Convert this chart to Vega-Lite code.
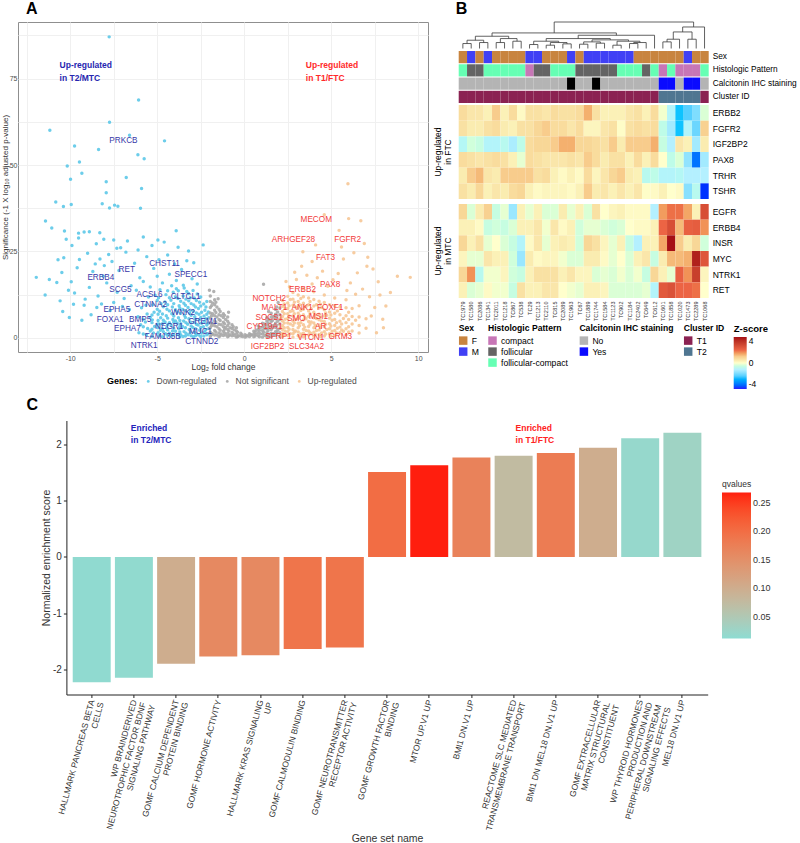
{
"$schema": "https://vega.github.io/schema/vega-lite/v6.json",
"padding": {"left": 0, "top": 0, "right": 0, "bottom": 0},
"bounds": "full",
"spacing": 6.5,
"config": {"font": "Liberation Sans", "view": {"stroke": null}, "axis": {"labelFont": "Liberation Sans", "titleFont": "Liberation Sans"}, "legend": {"labelFont": "Liberation Sans", "titleFont": "Liberation Sans"}, "title": {"font": "Liberation Sans"}},
"resolve": {"scale": {"color": "independent"}, "legend": {"color": "independent"}},
"datasets": {
"down": [
{"x":-7.76,"y":87.1},{"x":-6.07,"y":68.8},{"x":-7.74,"y":62.4},{"x":-11.17,"y":60.1},{"x":-4.58,"y":57.0},{"x":-6.59,"y":58.6},{"x":-9.75,"y":55.5},{"x":-8.37,"y":54.5},{"x":-6.11,"y":53.0},{"x":-5.75,"y":51.8},{"x":-9.47,"y":50.9},{"x":-10.17,"y":49.7},{"x":-9.33,"y":47.6},{"x":-6.78,"y":46.4},{"x":-9.98,"y":45.9},{"x":-7.93,"y":45.2},{"x":-5.9,"y":43.2},{"x":-7.93,"y":42.0},{"x":-10.83,"y":39.3},{"x":-9.94,"y":38.6},{"x":-8.16,"y":38.8},{"x":-10.39,"y":38.0},{"x":-7.74,"y":37.6},{"x":-7.45,"y":38.4},{"x":-7.26,"y":38.1},{"x":-5.96,"y":37.5},{"x":-11.42,"y":33.8},{"x":-11.06,"y":31.8},{"x":-10.33,"y":30.9},{"x":-9.52,"y":30.3},{"x":-9.2,"y":30.6},{"x":-8.9,"y":30.7},{"x":-8.3,"y":30.4},{"x":-3.91,"y":31.0},{"x":-10.23,"y":28.5},{"x":-9.52,"y":28.9},{"x":-8.07,"y":28.5},{"x":-7.5,"y":28.3},{"x":-6.71,"y":28.0},{"x":-5.8,"y":29.2},{"x":-4.96,"y":28.3},{"x":-2.36,"y":26.9},{"x":-7.32,"y":25.9},{"x":-10.37,"y":23.2},{"x":-9.47,"y":22.7},{"x":-8.29,"y":22.8},{"x":-7.79,"y":24.1},{"x":-8.56,"y":21.4},{"x":-8.04,"y":20.9},{"x":-11.95,"y":17.5},{"x":-10.77,"y":16.0},{"x":-11.44,"y":12.4},{"x":-10.58,"y":10.7},{"x":-9.94,"y":16.2},{"x":-10.48,"y":18.9},{"x":-9.75,"y":13.0},{"x":-9.14,"y":11.2},{"x":-9.81,"y":9.7},{"x":-10.43,"y":7.6},{"x":-10.05,"y":5.9},{"x":-9.33,"y":5.1},{"x":-8.47,"y":8.8},{"x":-7.5,"y":10.2},
{"x":-9.0,"y":24.5},{"x":-8.7,"y":19.2},{"x":-8.1,"y":17.8},{"x":-7.6,"y":22.1},{"x":-7.2,"y":19.5},{"x":-6.8,"y":24.8},{"x":-6.3,"y":21.6},{"x":-6.0,"y":17.4},{"x":-5.6,"y":23.5},{"x":-5.2,"y":20.1},{"x":-4.9,"y":22.6},{"x":-4.4,"y":24.0},{"x":-4.0,"y":21.4},{"x":-3.6,"y":19.8},{"x":-3.3,"y":22.3},{"x":-3.0,"y":17.1},{"x":-2.7,"y":15.6},{"x":-8.9,"y":14.6},{"x":-8.4,"y":12.1},{"x":-7.9,"y":15.9},{"x":-7.3,"y":13.2},{"x":-6.9,"y":11.4},{"x":-6.5,"y":15.1},{"x":-6.2,"y":13.8},{"x":-5.8,"y":16.3},{"x":-5.4,"y":14.7},{"x":-5.0,"y":17.8},{"x":-4.7,"y":15.9},{"x":-4.3,"y":18.4},{"x":-3.9,"y":16.6},{"x":-3.5,"y":15.2},{"x":-9.6,"y":20.3},{"x":-10.1,"y":13.8},{"x":-9.2,"y":9.4},{"x":-8.8,"y":6.7},{"x":-8.2,"y":9.8},{"x":-7.7,"y":7.9},{"x":-7.0,"y":9.1},{"x":-6.6,"y":8.2},{"x":-10.7,"y":22.6},{"x":-11.2,"y":16.9},{"x":-9.9,"y":26.7},{"x":-8.5,"y":27.2},{"x":-7.1,"y":26.1},{"x":-6.1,"y":25.4},{"x":-5.3,"y":26.7},{"x":-4.6,"y":27.7},{"x":-3.8,"y":26.2},{"x":-3.2,"y":25.1},{"x":-2.9,"y":21.7},
{"x":-6.05,"y":1.5},{"x":-5.95,"y":3.8},{"x":-6.1,"y":6.1},{"x":-5.9,"y":8.7},
{"x":-5.62,"y":0.9},{"x":-5.55,"y":2.7},{"x":-5.68,"y":4.6},{"x":-5.58,"y":6.9},{"x":-5.65,"y":9.4},{"x":-5.5,"y":11.8},
{"x":-5.22,"y":1.4},{"x":-5.15,"y":3.3},{"x":-5.28,"y":5.2},{"x":-5.18,"y":7.4},{"x":-5.25,"y":9.6},{"x":-5.12,"y":12.3},
{"x":-4.88,"y":0.6},{"x":-4.82,"y":2.2},{"x":-4.9,"y":4.0},{"x":-4.8,"y":5.8},{"x":-4.86,"y":7.7},{"x":-4.78,"y":9.9},{"x":-4.92,"y":11.6},{"x":-4.84,"y":13.9},
{"x":-4.52,"y":1.2},{"x":-4.46,"y":2.9},{"x":-4.55,"y":4.6},{"x":-4.48,"y":6.4},{"x":-4.44,"y":8.3},{"x":-4.56,"y":10.4},{"x":-4.5,"y":12.5},
{"x":-4.18,"y":0.5},{"x":-4.12,"y":2.0},{"x":-4.2,"y":3.6},{"x":-4.1,"y":5.3},{"x":-4.16,"y":7.0},{"x":-4.13,"y":8.9},{"x":-4.21,"y":10.9},{"x":-4.08,"y":13.2},{"x":-4.17,"y":15.1},
{"x":-3.82,"y":1.0},{"x":-3.76,"y":2.6},{"x":-3.85,"y":4.2},{"x":-3.78,"y":5.8},{"x":-3.84,"y":7.5},{"x":-3.74,"y":9.3},{"x":-3.81,"y":11.4},{"x":-3.79,"y":13.6},
{"x":-3.52,"y":0.4},{"x":-3.46,"y":1.8},{"x":-3.55,"y":3.3},{"x":-3.48,"y":4.9},{"x":-3.44,"y":6.5},{"x":-3.53,"y":8.2},{"x":-3.47,"y":10.0},{"x":-3.51,"y":12.1},{"x":-3.45,"y":14.4},
{"x":-3.22,"y":0.9},{"x":-3.16,"y":2.4},{"x":-3.25,"y":3.9},{"x":-3.18,"y":5.5},{"x":-3.14,"y":7.1},{"x":-3.23,"y":8.8},{"x":-3.19,"y":10.7},{"x":-3.2,"y":12.8},
{"x":-2.92,"y":0.3},{"x":-2.86,"y":1.6},{"x":-2.95,"y":3.0},{"x":-2.88,"y":4.5},{"x":-2.84,"y":6.1},{"x":-2.93,"y":7.7},{"x":-2.9,"y":9.5},{"x":-2.87,"y":11.5},{"x":-2.94,"y":13.7},
{"x":-2.62,"y":0.8},{"x":-2.56,"y":2.2},{"x":-2.65,"y":3.7},{"x":-2.58,"y":5.2},{"x":-2.6,"y":6.8},{"x":-2.63,"y":8.5},{"x":-2.57,"y":10.3},
{"x":-2.32,"y":0.5},{"x":-2.27,"y":1.8},{"x":-2.35,"y":3.2},{"x":-2.28,"y":4.7},{"x":-2.31,"y":6.3},{"x":-2.26,"y":8.0},{"x":-2.33,"y":9.8},
{"x":-2.07,"y":1.2},{"x":-2.03,"y":2.7},{"x":-2.08,"y":4.2},{"x":-2.04,"y":5.8},{"x":-2.06,"y":7.5},
{"x":-5.4,"y":2.0},{"x":-5.4,"y":5.9},{"x":-5.0,"y":3.9},{"x":-5.0,"y":8.3},{"x":-4.65,"y":1.8},{"x":-4.65,"y":5.1},{"x":-4.65,"y":9.0},{"x":-4.3,"y":1.3},{"x":-4.3,"y":4.4},{"x":-4.3,"y":7.8},{"x":-4.3,"y":11.6},{"x":-3.95,"y":1.9},{"x":-3.95,"y":4.9},{"x":-3.95,"y":8.1},{"x":-3.95,"y":11.9},{"x":-3.65,"y":0.9},{"x":-3.65,"y":4.1},{"x":-3.65,"y":7.1},{"x":-3.65,"y":10.6},{"x":-3.35,"y":1.3},{"x":-3.35,"y":4.4},{"x":-3.35,"y":7.8},{"x":-3.35,"y":11.2},{"x":-3.05,"y":0.6},{"x":-3.05,"y":3.4},{"x":-3.05,"y":6.5},{"x":-3.05,"y":9.9},{"x":-2.75,"y":1.1},{"x":-2.75,"y":3.9},{"x":-2.75,"y":7.2},{"x":-2.75,"y":10.8},{"x":-2.45,"y":1.4},{"x":-2.45,"y":4.2},{"x":-2.45,"y":7.4},{"x":-2.2,"y":2.4},{"x":-2.2,"y":5.5},{"x":-2.2,"y":8.9},
{"x":-5.8,"y":1.1},{"x":-5.8,"y":3.2},{"x":-5.8,"y":5.4},{"x":-5.3,"y":0.4},{"x":-5.3,"y":2.5},{"x":-5.3,"y":4.4},{"x":-5.3,"y":6.6},{"x":-4.95,"y":1.5},{"x":-4.95,"y":3.0},{"x":-4.95,"y":5.0},{"x":-4.95,"y":6.8},{"x":-4.7,"y":0.3},{"x":-4.7,"y":2.6},{"x":-4.7,"y":4.1},{"x":-4.7,"y":6.9},{"x":-4.4,"y":0.7},{"x":-4.4,"y":2.3},{"x":-4.4,"y":3.8},{"x":-4.4,"y":5.7},{"x":-4.4,"y":9.6},{"x":-4.05,"y":0.9},{"x":-4.05,"y":2.8},{"x":-4.05,"y":4.5},{"x":-4.05,"y":6.3},{"x":-4.05,"y":9.9},{"x":-3.7,"y":0.3},{"x":-3.7,"y":1.7},{"x":-3.7,"y":3.3},{"x":-3.7,"y":5.0},{"x":-3.7,"y":8.6},{"x":-3.38,"y":0.5},{"x":-3.38,"y":2.9},{"x":-3.38,"y":5.9},{"x":-3.38,"y":9.4},{"x":-3.1,"y":1.6},{"x":-3.1,"y":4.6},{"x":-3.1,"y":8.0},{"x":-3.1,"y":11.6},{"x":-2.8,"y":0.6},{"x":-2.8,"y":2.6},{"x":-2.8,"y":5.4},{"x":-2.8,"y":8.9},{"x":-2.5,"y":0.4},{"x":-2.5,"y":3.0},{"x":-2.5,"y":5.9},{"x":-2.5,"y":9.2},{"x":-2.5,"y":11.8},{"x":-2.15,"y":0.9},{"x":-2.15,"y":3.7},{"x":-2.15,"y":6.8},{"x":-2.15,"y":10.5},{"x":-3.3,"y":13.4},{"x":-3.9,"y":14.2},{"x":-4.4,"y":13.6},{"x":-2.7,"y":12.7},{"x":-5.0,"y":10.8}
],
"ns": [
{"x":-1.95,"y":0.4},{"x":-1.95,"y":1.6},{"x":-1.95,"y":2.9},{"x":-1.95,"y":4.3},{"x":-1.95,"y":5.7},{"x":-1.95,"y":7.2},{"x":-1.95,"y":8.8},{"x":-1.95,"y":10.5},{"x":-1.95,"y":12.1},
{"x":-1.7,"y":0.8},{"x":-1.7,"y":2.1},{"x":-1.7,"y":3.5},{"x":-1.7,"y":4.9},{"x":-1.7,"y":6.4},{"x":-1.7,"y":8.0},{"x":-1.7,"y":9.6},{"x":-1.7,"y":11.0},
{"x":-1.45,"y":0.3},{"x":-1.45,"y":1.4},{"x":-1.45,"y":2.6},{"x":-1.45,"y":3.9},{"x":-1.45,"y":5.3},{"x":-1.45,"y":6.7},{"x":-1.45,"y":8.3},
{"x":-1.2,"y":0.7},{"x":-1.2,"y":1.9},{"x":-1.2,"y":3.2},{"x":-1.2,"y":4.5},{"x":-1.2,"y":5.9},{"x":-1.2,"y":7.0},
{"x":-0.95,"y":0.3},{"x":-0.95,"y":1.3},{"x":-0.95,"y":2.4},{"x":-0.95,"y":3.6},{"x":-0.95,"y":4.8},{"x":-0.95,"y":6.0},
{"x":-0.7,"y":0.6},{"x":-0.7,"y":1.6},{"x":-0.7,"y":2.7},{"x":-0.7,"y":3.8},
{"x":-0.45,"y":0.2},{"x":-0.45,"y":1.1},{"x":-0.45,"y":2.0},{"x":-0.45,"y":2.9},
{"x":-0.2,"y":0.5},{"x":-0.2,"y":1.3},{"x":0.05,"y":0.2},{"x":0.05,"y":0.9},{"x":0.3,"y":0.4},{"x":0.3,"y":1.2},
{"x":0.55,"y":0.3},{"x":0.55,"y":1.1},{"x":0.55,"y":1.9},
{"x":0.8,"y":0.6},{"x":0.8,"y":1.5},{"x":0.8,"y":2.5},{"x":0.8,"y":3.4},
{"x":1.05,"y":0.2},{"x":1.05,"y":1.1},{"x":1.05,"y":2.1},{"x":1.05,"y":3.1},{"x":1.05,"y":4.2},
{"x":1.3,"y":0.5},{"x":1.3,"y":1.5},{"x":1.3,"y":2.6},{"x":1.3,"y":3.7},{"x":1.3,"y":4.9},{"x":1.3,"y":5.8},
{"x":1.55,"y":0.3},{"x":1.55,"y":1.3},{"x":1.55,"y":2.4},{"x":1.55,"y":3.5},{"x":1.55,"y":4.7},{"x":1.55,"y":6.0},{"x":1.55,"y":7.1},
{"x":1.8,"y":0.7},{"x":1.8,"y":1.8},{"x":1.8,"y":3.0},{"x":1.8,"y":4.2},{"x":1.8,"y":5.5},{"x":1.8,"y":6.8},{"x":1.8,"y":8.2},
{"x":2.05,"y":0.4},{"x":2.05,"y":1.5},{"x":2.05,"y":2.7},{"x":2.05,"y":4.0},{"x":2.05,"y":5.3},{"x":2.05,"y":6.7},{"x":2.05,"y":8.6},
{"x":-1.82,"y":1.2},{"x":-1.82,"y":4.1},{"x":-1.82,"y":7.0},{"x":-1.82,"y":10.1},{"x":-1.57,"y":0.8},{"x":-1.57,"y":3.2},{"x":-1.57,"y":6.0},{"x":-1.57,"y":8.9},{"x":-1.32,"y":1.1},{"x":-1.32,"y":3.8},{"x":-1.32,"y":6.4},{"x":-1.07,"y":0.8},{"x":-1.07,"y":3.0},{"x":-1.07,"y":5.3},{"x":-0.82,"y":0.9},{"x":-0.82,"y":2.9},{"x":-0.57,"y":0.7},{"x":-0.57,"y":2.3},{"x":-0.32,"y":0.6},{"x":-0.1,"y":0.4},{"x":0.18,"y":0.6},{"x":0.42,"y":0.8},{"x":0.68,"y":1.0},{"x":0.68,"y":2.2},{"x":0.92,"y":1.2},{"x":0.92,"y":2.9},{"x":1.18,"y":0.7},{"x":1.18,"y":2.6},{"x":1.18,"y":4.0},{"x":1.42,"y":1.0},{"x":1.42,"y":3.1},{"x":1.42,"y":5.3},{"x":1.68,"y":1.2},{"x":1.68,"y":3.6},{"x":1.68,"y":6.1},{"x":1.92,"y":2.2},{"x":1.92,"y":4.8},{"x":1.92,"y":7.5},
{"x":1.11,"y":15.5},{"x":-1.75,"y":13.4},{"x":-1.5,"y":11.3},{"x":-0.9,"y":7.4},{"x":1.4,"y":7.6},{"x":1.95,"y":10.2},{"x":-2.0,"y":13.8},
{"x":-1.88,"y":0.9},{"x":-1.88,"y":3.5},{"x":-1.88,"y":6.3},{"x":-1.88,"y":9.3},{"x":-1.63,"y":1.7},{"x":-1.63,"y":4.5},{"x":-1.63,"y":7.3},{"x":-1.63,"y":10.3},{"x":-1.38,"y":0.6},{"x":-1.38,"y":2.2},{"x":-1.38,"y":5.0},{"x":-1.38,"y":7.6},{"x":-1.13,"y":1.4},{"x":-1.13,"y":2.5},{"x":-1.13,"y":4.1},{"x":-1.13,"y":6.5},{"x":-0.88,"y":0.6},{"x":-0.88,"y":2.0},{"x":-0.88,"y":4.2},{"x":-0.63,"y":1.2},{"x":-0.63,"y":3.2},{"x":-0.38,"y":0.4},{"x":-0.38,"y":1.6},{"x":-0.13,"y":0.9},{"x":0.12,"y":0.5},{"x":0.37,"y":0.9},{"x":0.62,"y":0.5},{"x":0.62,"y":1.6},{"x":0.87,"y":0.3},{"x":0.87,"y":2.1},{"x":1.12,"y":1.6},{"x":1.12,"y":3.5},{"x":1.37,"y":0.3},{"x":1.37,"y":2.1},{"x":1.37,"y":4.3},{"x":1.62,"y":0.7},{"x":1.62,"y":2.9},{"x":1.62,"y":5.0},{"x":1.87,"y":1.3},{"x":1.87,"y":3.6},{"x":1.87,"y":6.2},{"x":1.87,"y":8.9}
],
"up": [
{"x":2.2,"y":0.3},{"x":2.2,"y":1.3},{"x":2.2,"y":2.4},{"x":2.2,"y":3.6},{"x":2.2,"y":4.9},{"x":2.2,"y":6.2},{"x":2.2,"y":7.6},{"x":2.2,"y":9.1},{"x":2.2,"y":10.8},
{"x":2.5,"y":0.7},{"x":2.5,"y":1.8},{"x":2.5,"y":3.0},{"x":2.5,"y":4.3},{"x":2.5,"y":5.6},{"x":2.5,"y":7.0},{"x":2.5,"y":8.5},{"x":2.5,"y":10.1},{"x":2.5,"y":12.0},
{"x":2.8,"y":0.2},{"x":2.8,"y":1.2},{"x":2.8,"y":2.4},{"x":2.8,"y":3.6},{"x":2.8,"y":4.9},{"x":2.8,"y":6.3},{"x":2.8,"y":7.8},{"x":2.8,"y":9.4},{"x":2.8,"y":11.2},{"x":2.8,"y":13.1},
{"x":3.1,"y":0.6},{"x":3.1,"y":1.7},{"x":3.1,"y":2.9},{"x":3.1,"y":4.2},{"x":3.1,"y":5.6},{"x":3.1,"y":7.1},{"x":3.1,"y":8.7},{"x":3.1,"y":10.5},{"x":3.1,"y":12.4},
{"x":3.4,"y":0.3},{"x":3.4,"y":1.3},{"x":3.4,"y":2.5},{"x":3.4,"y":3.8},{"x":3.4,"y":5.2},{"x":3.4,"y":6.7},{"x":3.4,"y":8.3},{"x":3.4,"y":10.0},{"x":3.4,"y":11.9},{"x":3.4,"y":14.2},
{"x":3.7,"y":0.8},{"x":3.7,"y":2.0},{"x":3.7,"y":3.3},{"x":3.7,"y":4.7},{"x":3.7,"y":6.2},{"x":3.7,"y":7.8},{"x":3.7,"y":9.6},{"x":3.7,"y":11.5},
{"x":4.0,"y":0.4},{"x":4.0,"y":1.6},{"x":4.0,"y":2.9},{"x":4.0,"y":4.3},{"x":4.0,"y":5.8},{"x":4.0,"y":7.4},{"x":4.0,"y":9.2},{"x":4.0,"y":11.1},{"x":4.0,"y":13.3},
{"x":4.3,"y":1.0},{"x":4.3,"y":2.3},{"x":4.3,"y":3.7},{"x":4.3,"y":5.2},{"x":4.3,"y":6.8},{"x":4.3,"y":8.6},{"x":4.3,"y":10.6},
{"x":4.6,"y":0.5},{"x":4.6,"y":1.8},{"x":4.6,"y":3.2},{"x":4.6,"y":4.7},{"x":4.6,"y":6.3},{"x":4.6,"y":8.1},{"x":4.6,"y":10.2},{"x":4.6,"y":12.4},
{"x":4.9,"y":1.2},{"x":4.9,"y":2.6},{"x":4.9,"y":4.1},{"x":4.9,"y":5.7},{"x":4.9,"y":7.5},{"x":4.9,"y":9.6},
{"x":5.2,"y":0.7},{"x":5.2,"y":2.1},{"x":5.2,"y":3.6},{"x":5.2,"y":5.3},{"x":5.2,"y":7.1},{"x":5.2,"y":9.2},{"x":5.2,"y":11.5},
{"x":5.5,"y":1.5},{"x":5.5,"y":3.1},{"x":5.5,"y":4.8},{"x":5.5,"y":6.7},{"x":5.5,"y":8.9},
{"x":5.85,"y":0.9},{"x":5.85,"y":2.6},{"x":5.85,"y":4.4},{"x":5.85,"y":6.4},{"x":5.85,"y":8.7},{"x":5.85,"y":11.0},
{"x":6.2,"y":2.0},{"x":6.2,"y":4.0},{"x":6.2,"y":6.2},{"x":6.2,"y":8.5},{"x":6.6,"y":1.4},{"x":6.6,"y":3.6},{"x":6.6,"y":6.0},{"x":6.6,"y":9.3},{"x":7.0,"y":2.8},{"x":7.0,"y":5.5},
{"x":2.35,"y":1.9},{"x":2.35,"y":5.4},{"x":2.35,"y":8.6},{"x":2.65,"y":1.2},{"x":2.65,"y":4.0},{"x":2.65,"y":7.6},{"x":2.65,"y":11.1},{"x":2.95,"y":2.0},{"x":2.95,"y":5.3},{"x":2.95,"y":8.9},{"x":3.25,"y":1.1},{"x":3.25,"y":4.4},{"x":3.25,"y":7.9},{"x":3.25,"y":11.4},{"x":3.55,"y":2.1},{"x":3.55,"y":5.5},{"x":3.55,"y":9.1},{"x":3.85,"y":1.2},{"x":3.85,"y":4.6},{"x":3.85,"y":8.4},{"x":4.15,"y":2.1},{"x":4.15,"y":5.6},{"x":4.15,"y":9.6},{"x":4.45,"y":1.4},{"x":4.45,"y":4.9},{"x":4.45,"y":8.8},{"x":4.75,"y":2.4},{"x":4.75,"y":6.5},{"x":5.05,"y":1.9},{"x":5.05,"y":5.1},{"x":5.35,"y":2.8},{"x":5.35,"y":7.8},{"x":5.7,"y":1.9},{"x":5.7,"y":5.6},{"x":6.0,"y":3.2},{"x":6.4,"y":5.1},
{"x":2.6,"y":14.8},{"x":3.0,"y":16.9},{"x":3.3,"y":20.7},{"x":3.6,"y":18.1},{"x":3.9,"y":15.6},{"x":4.2,"y":17.4},{"x":4.5,"y":19.3},{"x":4.8,"y":14.9},{"x":5.1,"y":16.8},{"x":5.4,"y":18.6},{"x":5.7,"y":22.8},{"x":5.9,"y":13.7},{"x":6.1,"y":15.9},{"x":6.4,"y":12.6},{"x":6.5,"y":18.8},{"x":6.8,"y":14.1},{"x":7.05,"y":20.7},{"x":7.1,"y":23.3},{"x":7.2,"y":11.9},{"x":7.4,"y":19.9},{"x":7.5,"y":8.8},{"x":7.7,"y":16.2},{"x":7.96,"y":5.4},{"x":8.14,"y":9.2},{"x":8.4,"y":13.1},{"x":8.8,"y":17.8},{"x":9.54,"y":17.5},{"x":3.37,"y":24.9},{"x":5.59,"y":26.3},{"x":5.45,"y":31.1},{"x":4.6,"y":35.6},{"x":6.0,"y":34.5},{"x":6.7,"y":33.9},{"x":5.96,"y":44.6},{"x":3.9,"y":22.1},{"x":2.9,"y":19.0},{"x":4.1,"y":26.9},{"x":6.3,"y":24.6},{"x":6.9,"y":27.3},{"x":2.4,"y":16.3},{"x":7.8,"y":12.4},{"x":8.0,"y":2.9},{"x":7.6,"y":1.5},{"x":7.3,"y":6.3},
{"x":2.1,"y":1.0},{"x":2.1,"y":3.1},{"x":2.1,"y":5.6},{"x":2.3,"y":0.8},{"x":2.3,"y":2.9},{"x":2.3,"y":4.3},{"x":2.3,"y":7.0},{"x":2.3,"y":9.8},{"x":2.58,"y":2.5},{"x":2.58,"y":6.3},{"x":2.58,"y":9.3},{"x":2.88,"y":1.7},{"x":2.88,"y":4.3},{"x":2.88,"y":7.0},{"x":2.88,"y":10.3},{"x":3.18,"y":0.3},{"x":3.18,"y":3.5},{"x":3.18,"y":6.4},{"x":3.18,"y":9.6},{"x":3.48,"y":0.8},{"x":3.48,"y":3.1},{"x":3.48,"y":6.0},{"x":3.48,"y":9.1},{"x":3.78,"y":1.5},{"x":3.78,"y":3.9},{"x":3.78,"y":7.0},{"x":3.78,"y":10.5},{"x":4.08,"y":1.0},{"x":4.08,"y":3.6},{"x":4.08,"y":6.6},{"x":4.38,"y":0.4},{"x":4.38,"y":3.0},{"x":4.38,"y":6.0},{"x":4.38,"y":9.7},{"x":4.68,"y":1.1},{"x":4.68,"y":3.9},{"x":4.68,"y":7.2},{"x":4.98,"y":0.5},{"x":4.98,"y":3.4},{"x":4.98,"y":6.6},{"x":5.3,"y":1.4},{"x":5.3,"y":4.4},{"x":5.6,"y":2.3},{"x":5.6,"y":4.0},{"x":6.0,"y":1.7},{"x":6.0,"y":5.3},{"x":6.0,"y":7.4}
],
"labB": [
{"l":"PRKCB","x":-6.94,"y":57.0},{"l":"RET","x":-6.75,"y":19.6},{"l":"ERBB4","x":-8.24,"y":17.3},{"l":"CHST11","x":-4.58,"y":21.3},{"l":"SPECC1","x":-3.07,"y":18.3},{"l":"SCG5","x":-7.11,"y":13.9},{"l":"ACSL6","x":-5.44,"y":12.4},{"l":"CLTCL1","x":-3.37,"y":11.7},{"l":"CTNNA2","x":-5.38,"y":9.5},{"l":"EPHA5","x":-7.32,"y":8.0},{"l":"WNK2","x":-3.51,"y":7.2},{"l":"FOXA1","x":-7.7,"y":5.3},{"l":"BMP5","x":-5.98,"y":5.3},{"l":"GREM1","x":-2.38,"y":4.5},{"l":"EPHA7","x":-6.71,"y":2.6},{"l":"NEGR1","x":-4.31,"y":3.0},{"l":"MUC1","x":-2.51,"y":1.7},{"l":"FAM135B","x":-4.68,"y":0.2},{"l":"CTNND2","x":-2.44,"y":-1.2},{"l":"NTRK1","x":-5.75,"y":-2.5}
],
"labR": [
{"l":"MECOM","x":4.14,"y":34.2},{"l":"ARHGEF28","x":2.83,"y":28.3},{"l":"FGFR2","x":5.94,"y":28.3},{"l":"FAT3","x":4.67,"y":23.0},{"l":"PAX8","x":4.94,"y":15.4},{"l":"ERBB2","x":3.35,"y":13.9},{"l":"NOTCH2","x":1.44,"y":11.2},{"l":"MALT1","x":1.74,"y":8.6},{"l":"ANK1","x":3.33,"y":8.6},{"l":"FOXF1","x":4.94,"y":8.6},{"l":"SOCS1","x":1.44,"y":5.7},{"l":"SMO","x":2.99,"y":5.4},{"l":"MSI1","x":4.27,"y":5.9},{"l":"CYP19A1","x":1.17,"y":3.0},{"l":"AR","x":4.4,"y":3.1},{"l":"SFRP1","x":1.97,"y":0.3},{"l":"VTCN1","x":3.83,"y":0.0},{"l":"GRM3","x":5.52,"y":0.3},{"l":"IGF2BP2","x":1.34,"y":-2.6},{"l":"SLC34A2","x":3.58,"y":-2.6}
],
"annA": [
{"x":-10.61,"y":78.9,"t":"Up-regulated\n in T2/MTC","c":"b"},
{"x":3.54,"y":78.9,"t":"Up-regulated\n in T1/FTC","c":"r"}
],
"dendro": [
{"xl":0.5,"xr":1.5,"hl":0,"hr":0,"h":15},{"xl":2.5,"xr":3.5,"hl":0,"hr":0,"h":18},{"xl":1.0,"xr":3.0,"hl":15,"hr":18,"h":25},
{"xl":4.5,"xr":5.5,"hl":0,"hr":0,"h":18},{"xl":6.5,"xr":7.5,"hl":0,"hr":0,"h":22},{"xl":5.0,"xr":7.0,"hl":18,"hr":22,"h":30},
{"xl":2.0,"xr":6.0,"hl":25,"hr":30,"h":37},
{"xl":8.5,"xr":9.5,"hl":0,"hr":0,"h":12},{"xl":10.5,"xr":11.5,"hl":0,"hr":0,"h":10},{"xl":12.5,"xr":13.5,"hl":0,"hr":0,"h":14},{"xl":11.0,"xr":13.0,"hl":10,"hr":14,"h":18},{"xl":9.0,"xr":12.0,"hl":12,"hr":18,"h":22},
{"xl":14.5,"xr":15.5,"hl":0,"hr":0,"h":13},{"xl":16.5,"xr":17.5,"hl":0,"hr":0,"h":16},{"xl":15.0,"xr":17.0,"hl":13,"hr":16,"h":20},
{"xl":18.5,"xr":19.5,"hl":0,"hr":0,"h":10},{"xl":20.5,"xr":21.5,"hl":0,"hr":0,"h":15},{"xl":21.0,"xr":22.5,"hl":15,"hr":0,"h":18},{"xl":19.0,"xr":21.75,"hl":10,"hr":18,"h":22},
{"xl":16.0,"xr":20.375,"hl":20,"hr":22,"h":26},{"xl":10.5,"xr":18.19,"hl":22,"hr":26,"h":30},{"xl":14.34,"xr":23.5,"hl":30,"hr":0,"h":40},{"xl":4.0,"xr":18.92,"hl":37,"hr":40,"h":47},
{"xl":24.5,"xr":25.5,"hl":0,"hr":0,"h":20},{"xl":25.0,"xr":26.5,"hl":20,"hr":0,"h":28},{"xl":27.5,"xr":28.5,"hl":0,"hr":0,"h":28},{"xl":25.75,"xr":28.0,"hl":28,"hr":28,"h":50},{"xl":26.875,"xr":29.5,"hl":50,"hr":0,"h":65},
{"xl":11.46,"xr":28.19,"hl":47,"hr":65,"h":80}
],
"samples": [
{"s":"TC1979","Sex":"F","Hist":"follicular-compact","Calc":"No","Cl":"T1","ERBB2":0.7,"FGFR2":0.6,"IGF2BP2":-0.8,"PAX8":0.7,"TRHR":0.4,"TSHR":0.6,"EGFR":0.8,"ERBB4":0.3,"INSR":0.8,"MYC":0.2,"NTRK1":0.8,"RET":0.3},
{"s":"TC1580","Sex":"M","Hist":"follicular","Calc":"No","Cl":"T1","ERBB2":0.5,"FGFR2":0.4,"IGF2BP2":-0.4,"PAX8":0.6,"TRHR":1.0,"TSHR":0.4,"EGFR":-0.3,"ERBB4":0.3,"INSR":0.3,"MYC":-0.2,"NTRK1":1.6,"RET":-0.3},
{"s":"TC2086","Sex":"F","Hist":"follicular","Calc":"No","Cl":"T1","ERBB2":0.5,"FGFR2":0.4,"IGF2BP2":-0.5,"PAX8":0.5,"TRHR":1.2,"TSHR":0.8,"EGFR":0.4,"ERBB4":0.1,"INSR":0.6,"MYC":-0.2,"NTRK1":-0.7,"RET":-0.2},
{"s":"TC1341","Sex":"M","Hist":"follicular-compact","Calc":"No","Cl":"T1","ERBB2":0.3,"FGFR2":0.6,"IGF2BP2":-0.9,"PAX8":0.6,"TRHR":0.5,"TSHR":0.3,"EGFR":0.9,"ERBB4":-0.5,"INSR":-0.2,"MYC":0.5,"NTRK1":-0.1,"RET":0.1},
{"s":"TC2011","Sex":"F","Hist":"follicular-compact","Calc":"No","Cl":"T1","ERBB2":1.0,"FGFR2":0.7,"IGF2BP2":-0.9,"PAX8":0.7,"TRHR":0.4,"TSHR":0.5,"EGFR":-0.5,"ERBB4":-0.4,"INSR":0.0,"MYC":0.3,"NTRK1":-0.1,"RET":-0.1},
{"s":"TC1218","Sex":"F","Hist":"follicular-compact","Calc":"No","Cl":"T1","ERBB2":0.3,"FGFR2":0.4,"IGF2BP2":-0.7,"PAX8":0.6,"TRHR":1.0,"TSHR":0.4,"EGFR":-0.2,"ERBB4":-0.5,"INSR":-0.3,"MYC":0.3,"NTRK1":0.2,"RET":-0.1},
{"s":"TC867","Sex":"F","Hist":"follicular-compact","Calc":"No","Cl":"T1","ERBB2":0.7,"FGFR2":0.3,"IGF2BP2":-1.1,"PAX8":0.3,"TRHR":1.0,"TSHR":0.7,"EGFR":-1.3,"ERBB4":-0.3,"INSR":-0.5,"MYC":-0.4,"NTRK1":-0.4,"RET":-0.5},
{"s":"TC538","Sex":"F","Hist":"follicular-compact","Calc":"No","Cl":"T1","ERBB2":0.1,"FGFR2":0.6,"IGF2BP2":-0.6,"PAX8":-0.2,"TRHR":1.0,"TSHR":0.8,"EGFR":0.3,"ERBB4":0.3,"INSR":-0.9,"MYC":-1.3,"NTRK1":-0.5,"RET":0.6},
{"s":"TC29","Sex":"M","Hist":"compact","Calc":"No","Cl":"T1","ERBB2":0.6,"FGFR2":0.6,"IGF2BP2":0.7,"PAX8":0.7,"TRHR":1.0,"TSHR":0.3,"EGFR":-0.2,"ERBB4":0.3,"INSR":0.1,"MYC":0.4,"NTRK1":0.3,"RET":0.3},
{"s":"TC1213","Sex":"M","Hist":"follicular","Calc":"No","Cl":"T1","ERBB2":0.6,"FGFR2":0.8,"IGF2BP2":0.8,"PAX8":0.6,"TRHR":0.6,"TSHR":0.1,"EGFR":0.3,"ERBB4":0.5,"INSR":0.5,"MYC":0.1,"NTRK1":0.6,"RET":0.3},
{"s":"TC2110","Sex":"F","Hist":"follicular","Calc":"No","Cl":"T1","ERBB2":0.5,"FGFR2":1.0,"IGF2BP2":0.8,"PAX8":0.5,"TRHR":0.7,"TSHR":0.2,"EGFR":-0.3,"ERBB4":-0.1,"INSR":-0.2,"MYC":0.2,"NTRK1":0.6,"RET":0.5},
{"s":"TC815","Sex":"F","Hist":"follicular-compact","Calc":"No","Cl":"T1","ERBB2":0.7,"FGFR2":0.7,"IGF2BP2":1.0,"PAX8":0.5,"TRHR":0.3,"TSHR":0.2,"EGFR":-0.3,"ERBB4":0.5,"INSR":0.3,"MYC":0.2,"NTRK1":0.6,"RET":0.5},
{"s":"TC2089","Sex":"F","Hist":"follicular-compact","Calc":"No","Cl":"T1","ERBB2":0.6,"FGFR2":0.7,"IGF2BP2":1.3,"PAX8":0.5,"TRHR":0.1,"TSHR":0.2,"EGFR":0.4,"ERBB4":0.1,"INSR":0.4,"MYC":-0.1,"NTRK1":0.3,"RET":0.0},
{"s":"TC1963","Sex":"M","Hist":"follicular-compact","Calc":"NA","Cl":"T1","ERBB2":0.6,"FGFR2":0.5,"IGF2BP2":1.3,"PAX8":0.6,"TRHR":0.3,"TSHR":0.1,"EGFR":-0.2,"ERBB4":0.3,"INSR":0.3,"MYC":-0.3,"NTRK1":0.5,"RET":-0.1},
{"s":"TC67","Sex":"F","Hist":"follicular","Calc":"No","Cl":"T1","ERBB2":0.7,"FGFR2":0.7,"IGF2BP2":0.8,"PAX8":0.5,"TRHR":0.1,"TSHR":0.3,"EGFR":0.3,"ERBB4":-0.4,"INSR":-0.4,"MYC":-0.3,"NTRK1":0.2,"RET":-0.2},
{"s":"TC1889","Sex":"M","Hist":"follicular","Calc":"No","Cl":"T1","ERBB2":1.3,"FGFR2":0.2,"IGF2BP2":0.8,"PAX8":1.0,"TRHR":0.7,"TSHR":1.0,"EGFR":-0.3,"ERBB4":-0.2,"INSR":0.8,"MYC":0.4,"NTRK1":0.2,"RET":0.3},
{"s":"TC1744","Sex":"M","Hist":"follicular","Calc":"NA","Cl":"T1","ERBB2":0.6,"FGFR2":0.2,"IGF2BP2":0.7,"PAX8":0.7,"TRHR":0.2,"TSHR":0.4,"EGFR":0.6,"ERBB4":-0.2,"INSR":0.6,"MYC":0.4,"NTRK1":-0.3,"RET":0.3},
{"s":"TC1584","Sex":"M","Hist":"follicular","Calc":"No","Cl":"T1","ERBB2":0.3,"FGFR2":0.5,"IGF2BP2":0.6,"PAX8":0.4,"TRHR":0.5,"TSHR":0.5,"EGFR":0.0,"ERBB4":-0.3,"INSR":0.2,"MYC":0.1,"NTRK1":-0.2,"RET":0.2},
{"s":"TC1123","Sex":"M","Hist":"follicular","Calc":"No","Cl":"T1","ERBB2":0.3,"FGFR2":0.6,"IGF2BP2":1.0,"PAX8":0.6,"TRHR":0.8,"TSHR":0.3,"EGFR":0.2,"ERBB4":-0.4,"INSR":-0.2,"MYC":-0.2,"NTRK1":-0.3,"RET":-0.3},
{"s":"TC902","Sex":"M","Hist":"follicular-compact","Calc":"No","Cl":"T1","ERBB2":0.3,"FGFR2":0.05,"IGF2BP2":0.4,"PAX8":0.6,"TRHR":1.0,"TSHR":0.5,"EGFR":0.3,"ERBB4":-0.3,"INSR":0.3,"MYC":0.0,"NTRK1":-0.1,"RET":-0.3},
{"s":"TC1184","Sex":"M","Hist":"follicular-compact","Calc":"No","Cl":"T1","ERBB2":0.5,"FGFR2":0.6,"IGF2BP2":1.0,"PAX8":0.3,"TRHR":0.4,"TSHR":0.3,"EGFR":0.1,"ERBB4":0.0,"INSR":-0.5,"MYC":-0.3,"NTRK1":-0.3,"RET":-0.3},
{"s":"TC2402","Sex":"F","Hist":"follicular-compact","Calc":"No","Cl":"T1","ERBB2":0.6,"FGFR2":0.7,"IGF2BP2":1.0,"PAX8":0.7,"TRHR":0.3,"TSHR":0.5,"EGFR":0.1,"ERBB4":0.1,"INSR":-1.0,"MYC":0.3,"NTRK1":-0.1,"RET":-0.3},
{"s":"TC649","Sex":"F","Hist":"follicular","Calc":"No","Cl":"T1","ERBB2":0.3,"FGFR2":0.6,"IGF2BP2":1.0,"PAX8":0.3,"TRHR":-0.7,"TSHR":0.05,"EGFR":0.1,"ERBB4":0.1,"INSR":0.3,"MYC":0.5,"NTRK1":-0.5,"RET":-0.2},
{"s":"TC612","Sex":"F","Hist":"follicular-compact","Calc":"No","Cl":"T1","ERBB2":0.7,"FGFR2":0.7,"IGF2BP2":1.3,"PAX8":0.7,"TRHR":-0.6,"TSHR":0.1,"EGFR":-1.0,"ERBB4":0.3,"INSR":0.3,"MYC":-0.5,"NTRK1":0.8,"RET":-0.9},
{"s":"TC1601","Sex":"F","Hist":"compact","Calc":"Yes","Cl":"T2","ERBB2":-0.1,"FGFR2":-0.6,"IGF2BP2":-0.5,"PAX8":0.0,"TRHR":-0.9,"TSHR":0.3,"EGFR":1.5,"ERBB4":2.0,"INSR":1.4,"MYC":0.4,"NTRK1":0.3,"RET":2.3},
{"s":"TC1858","Sex":"F","Hist":"follicular-compact","Calc":"Yes","Cl":"T2","ERBB2":-0.9,"FGFR2":-1.2,"IGF2BP2":-1.0,"PAX8":-0.6,"TRHR":-0.9,"TSHR":0.0,"EGFR":1.9,"ERBB4":2.6,"INSR":4.0,"MYC":1.2,"NTRK1":-0.2,"RET":2.5},
{"s":"TC1020","Sex":"F","Hist":"compact","Calc":"No","Cl":"T2","ERBB2":-2.2,"FGFR2":-2.2,"IGF2BP2":0.5,"PAX8":-0.3,"TRHR":-0.8,"TSHR":0.1,"EGFR":1.9,"ERBB4":1.2,"INSR":1.0,"MYC":1.2,"NTRK1":2.1,"RET":2.0},
{"s":"TC1473","Sex":"M","Hist":"compact","Calc":"Yes","Cl":"T2","ERBB2":-2.0,"FGFR2":-0.9,"IGF2BP2":0.3,"PAX8":-1.4,"TRHR":-1.0,"TSHR":-1.5,"EGFR":1.4,"ERBB4":2.1,"INSR":0.4,"MYC":1.3,"NTRK1":1.6,"RET":2.0},
{"s":"TC2289","Sex":"F","Hist":"compact","Calc":"Yes","Cl":"T2","ERBB2":-1.6,"FGFR2":-1.8,"IGF2BP2":-1.2,"PAX8":-3.3,"TRHR":-1.0,"TSHR":-0.7,"EGFR":0.3,"ERBB4":2.2,"INSR":0.8,"MYC":3.7,"NTRK1":3.0,"RET":1.9},
{"s":"TC1068","Sex":"F","Hist":"follicular-compact","Calc":"No","Cl":"T1","ERBB2":-0.3,"FGFR2":0.9,"IGF2BP2":0.4,"PAX8":-1.2,"TRHR":-1.0,"TSHR":-3.9,"EGFR":2.6,"ERBB4":1.6,"INSR":-0.4,"MYC":2.4,"NTRK1":0.2,"RET":0.0}
],
"gsea": [
{"set":"HALLMARK PANCREAS BETA\nCELLS","nes":-2.23,"q":0.015},
{"set":"WP BRAINDERIVED\nNEUROTROPHIC FACTOR BDNF\nSIGNALING PATHWAY","nes":-2.15,"q":0.016},
{"set":"GOMF CALCIUM DEPENDENT\nPROTEIN BINDING","nes":-1.9,"q":0.1},
{"set":"GOMF HORMONE ACTIVITY","nes":-1.77,"q":0.16},
{"set":"HALLMARK KRAS SIGNALING\nUP","nes":-1.75,"q":0.16},
{"set":"GOMF CALMODULIN BINDING","nes":-1.64,"q":0.19},
{"set":"GOMF NEUROTRANSMITTER\nRECEPTOR ACTIVITY","nes":-1.61,"q":0.19},
{"set":"GOMF GROWTH FACTOR\nBINDING","nes":1.51,"q":0.2},
{"set":"MTOR UP.V1 UP","nes":1.63,"q":0.268},
{"set":"BMI1 DN.V1 UP","nes":1.77,"q":0.17},
{"set":"REACTOME SLC MEDIATED\nTRANSMEMBRANE TRANSPORT","nes":1.8,"q":0.075},
{"set":"BMI1 DN MEL18 DN.V1 UP","nes":1.85,"q":0.18},
{"set":"GOMF EXTRACELLULAR\nMATRIX STRUCTURAL\nCONSTITUENT","nes":1.94,"q":0.1},
{"set":"WP THYROID HORMONES\nPRODUCTION AND\nPERIPHERAL DOWNSTREAM\nSIGNALING EFFECTS","nes":2.11,"q":0.02},
{"set":"MEL18 DN.V1 UP","nes":2.21,"q":0.03}
],
"annCb": [{"set":"WP BRAINDERIVED\nNEUROTROPHIC FACTOR BDNF\nSIGNALING PATHWAY","t":"Enriched\n in T2/MTC"}],
"annCr": [{"set":"REACTOME SLC MEDIATED\nTRANSMEMBRANE TRANSPORT","t":"Enriched\n in T1/FTC"}]
},
"vconcat": [
{
"hconcat": [
{
"width": 410, "height": 330,
"view": {"stroke": "#8f8f8f", "strokeWidth": 1},
"title": {"text": "A", "anchor": "start", "frame": "group", "fontSize": 16, "fontWeight": "bold", "offset": 5, "dx": 8, "color": "black"},
"encoding": {
"x": {"field": "x", "type": "quantitative", "scale": {"domain": [-13.0, 10.56], "nice": false, "zero": false},
"axis": {"values": [-12.5, -10, -7.5, -5, -2.5, 0, 2.5, 5, 7.5, 10], "labelExpr": "datum.value % 5 == 0 ? toString(datum.value) : ''", "title": "Log₂ fold change", "grid": true, "gridColor": "#f0f0f0", "ticks": false, "domain": false, "labelFontSize": 7, "labelColor": "#4d4d4d", "titleFontSize": 8.5, "titleFontWeight": "normal", "titleColor": "#333", "titlePadding": 1, "labelPadding": 2}},
"y": {"field": "y", "type": "quantitative", "scale": {"domain": [-4.1, 91.4], "nice": false, "zero": false},
"axis": {"values": [0, 12.5, 25, 37.5, 50, 62.5, 75, 87.5], "labelExpr": "datum.value % 25 == 0 ? toString(datum.value) : ''", "title": "Significance (-1 X log₁₀ adjusted p-value)", "grid": true, "gridColor": "#f0f0f0", "ticks": false, "tickSize": 0, "domain": false, "labelFontSize": 7, "labelColor": "#4d4d4d", "titleFontSize": 8, "titleFontWeight": "normal", "titleColor": "#333", "titlePadding": 0, "labelPadding": 1}}
},
"layer": [
{"data": {"name": "down"}, "mark": {"type": "circle", "size": 12, "opacity": 0.9},
"encoding": {"color": {"datum": "Down-regulated", "type": "nominal",
"scale": {"domain": ["Down-regulated", "Not significant", "Up-regulated"], "range": ["#5cc8e8", "#a8a8a8", "#f6c696"]},
"legend": {"title": "Genes:", "orient": "none", "legendX": 89, "legendY": 355, "direction": "horizontal", "titleOrient": "left", "titleFontSize": 9, "titleFontWeight": "bold", "titleColor": "black", "labelFontSize": 8.5, "labelColor": "#4d4d4d", "symbolSize": 8, "symbolType": "circle", "columnPadding": 6, "labelOffset": 4, "titlePadding": 6}}}},
{"data": {"name": "ns"}, "mark": {"type": "circle", "size": 12, "opacity": 0.9}, "encoding": {"color": {"datum": "Not significant", "type": "nominal"}}},
{"data": {"name": "up"}, "mark": {"type": "circle", "size": 12, "opacity": 0.9}, "encoding": {"color": {"datum": "Up-regulated", "type": "nominal"}}},
{"data": {"name": "labB"}, "mark": {"type": "text", "fontSize": 8.2, "color": "#3737a8"}, "encoding": {"text": {"field": "l"}}},
{"data": {"name": "labR"}, "mark": {"type": "text", "fontSize": 8.2, "color": "#f23a3a"}, "encoding": {"text": {"field": "l"}}},
{"data": {"name": "annA"}, "transform": [{"filter": "datum.c == 'b'"}], "mark": {"type": "text", "fontSize": 8.5, "fontWeight": "bold", "color": "#2626b0", "align": "left", "baseline": "middle", "lineBreak": "\n", "lineHeight": 12.7}, "encoding": {"text": {"field": "t"}}},
{"data": {"name": "annA"}, "transform": [{"filter": "datum.c == 'r'"}], "mark": {"type": "text", "fontSize": 8.5, "fontWeight": "bold", "color": "#ff2a2a", "align": "left", "baseline": "middle", "lineBreak": "\n", "lineHeight": 12.7}, "encoding": {"text": {"field": "t"}}}
]
},
{
"vconcat": [
{
"width": 250, "height": 26.5,
"title": {"text": "B", "anchor": "start", "frame": "group", "fontSize": 16, "fontWeight": "bold", "offset": 5, "dx": -3, "color": "black"},
"data": {"name": "dendro"},
"layer": [
{"mark": {"type": "rule", "color": "#3a3a3a", "strokeWidth": 0.8}, "encoding": {"x": {"field": "xl", "type": "quantitative", "scale": {"domain": [0, 30], "nice": false, "zero": false}, "axis": null}, "x2": {"field": "xr"}, "y": {"field": "h", "type": "quantitative", "scale": {"domain": [0, 80], "nice": false}, "axis": null}}},
{"mark": {"type": "rule", "color": "#3a3a3a", "strokeWidth": 0.8}, "encoding": {"x": {"field": "xl", "type": "quantitative"}, "y": {"field": "hl", "type": "quantitative"}, "y2": {"field": "h"}}},
{"mark": {"type": "rule", "color": "#3a3a3a", "strokeWidth": 0.8}, "encoding": {"x": {"field": "xr", "type": "quantitative"}, "y": {"field": "hr", "type": "quantitative"}, "y2": {"field": "h"}}}
]
},
{
"width": 250, "height": 52,
"data": {"name": "samples"},
"encoding": {"x": {"field": "s", "type": "nominal", "sort": null, "axis": null, "scale": {"paddingInner": 0, "paddingOuter": 0}}},
"layer": [
{"mark": "rect", "encoding": {
"y": {"datum": "Sex", "type": "nominal", "scale": {"domain": ["Sex", "Histologic Pattern", "Calcitonin IHC staining", "Cluster ID"], "paddingInner": 0.08, "paddingOuter": 0}, "axis": {"orient": "right", "title": null, "ticks": false, "domain": false, "labelFontSize": 8.3, "labelPadding": 3.5, "labelColor": "black", "labelLimit": 200}},
"color": {"field": "Sex", "type": "nominal", "scale": {"domain": ["F", "M"], "range": ["#c8843f", "#4040f5"]},
"legend": {"title": "Sex", "orient": "none", "legendX": 0, "legendY": 272.5, "symbolType": "square", "symbolSize": 72, "symbolStrokeWidth": 0, "titleFontSize": 8.6, "titleFontWeight": "bold", "titleColor": "black", "labelFontSize": 8.6, "labelColor": "black", "rowPadding": 1, "titlePadding": 4, "labelOffset": 4}}}},
{"mark": "rect", "encoding": {
"y": {"datum": "Histologic Pattern", "type": "nominal"},
"color": {"field": "Hist", "type": "nominal", "scale": {"domain": ["compact", "follicular", "follicular-compact"], "range": ["#c776b6", "#646464", "#66ffb4"]},
"legend": {"title": "Histologic Pattern", "orient": "none", "legendX": 29.3, "legendY": 272.5, "symbolType": "square", "symbolSize": 72, "symbolStrokeWidth": 0, "titleFontSize": 8.6, "titleFontWeight": "bold", "titleColor": "black", "labelFontSize": 8.6, "labelColor": "black", "rowPadding": 1, "titlePadding": 4, "labelOffset": 4}}}},
{"mark": "rect", "encoding": {
"y": {"datum": "Calcitonin IHC staining", "type": "nominal"},
"color": {"field": "Calc", "type": "nominal", "scale": {"domain": ["No", "Yes", "NA"], "range": ["#b4b4b4", "#0a0aff", "#000000"]},
"legend": {"title": "Calcitonin IHC staining", "values": ["No", "Yes"], "orient": "none", "legendX": 120.7, "legendY": 272.5, "symbolType": "square", "symbolSize": 72, "symbolStrokeWidth": 0, "titleFontSize": 8.6, "titleFontWeight": "bold", "titleColor": "black", "labelFontSize": 8.6, "labelColor": "black", "rowPadding": 1, "titlePadding": 4, "labelOffset": 4}}}},
{"mark": "rect", "encoding": {
"y": {"datum": "Cluster ID", "type": "nominal"},
"color": {"field": "Cl", "type": "nominal", "scale": {"domain": ["T1", "T2"], "range": ["#8b2252", "#4f7691"]},
"legend": {"title": "Cluster ID", "orient": "none", "legendX": 225, "legendY": 272.5, "symbolType": "square", "symbolSize": 72, "symbolStrokeWidth": 0, "titleFontSize": 8.6, "titleFontWeight": "bold", "titleColor": "black", "labelFontSize": 8.6, "labelColor": "black", "rowPadding": 1, "titlePadding": 4, "labelOffset": 4}}}}
],
"resolve": {"scale": {"color": "independent"}, "legend": {"color": "independent"}}
},
{
"vconcat": [
{
"width": 250, "height": 94,
"data": {"name": "samples"},
"transform": [{"fold": ["ERBB2", "FGFR2", "IGF2BP2", "PAX8", "TRHR", "TSHR"], "as": ["gene", "z"]}],
"title": {"text": ["Up-regulated", "in FTC"], "orient": "left", "anchor": "middle", "fontSize": 8.5, "fontWeight": "normal", "offset": 6, "lineHeight": 10, "color": "black"},
"mark": "rect",
"encoding": {
"x": {"field": "s", "type": "nominal", "sort": null, "axis": null, "scale": {"paddingInner": 0, "paddingOuter": 0}},
"y": {"field": "gene", "type": "nominal", "sort": ["ERBB2", "FGFR2", "IGF2BP2", "PAX8", "TRHR", "TSHR"], "scale": {"paddingInner": 0, "paddingOuter": 0}, "axis": {"orient": "right", "title": null, "ticks": false, "domain": false, "labelFontSize": 8.5, "labelPadding": 3.5, "labelColor": "black"}},
"color": {"field": "z", "type": "quantitative", "scale": {"domain": [-4, -2, -1, 0, 1, 2, 4], "range": ["#2b1bff", "#55cfff", "#b4f0ff", "#ffffcc", "#f8cc8c", "#ec6444", "#a50f15"]}, "legend": null}
}
},
{
"width": 250, "height": 94,
"data": {"name": "samples"},
"transform": [{"fold": ["EGFR", "ERBB4", "INSR", "MYC", "NTRK1", "RET"], "as": ["gene", "z"]}],
"title": {"text": ["Up-regulated", "in MTC"], "orient": "left", "anchor": "middle", "fontSize": 8.5, "fontWeight": "normal", "offset": 6, "lineHeight": 10, "color": "black"},
"mark": "rect",
"encoding": {
"x": {"field": "s", "type": "nominal", "sort": null, "scale": {"paddingInner": 0, "paddingOuter": 0}, "axis": {"orient": "bottom", "title": null, "labelAngle": -90, "labelFontSize": 5.5, "labelColor": "#333", "ticks": false, "domain": false, "labelPadding": 3, "labelOverlap": false}},
"y": {"field": "gene", "type": "nominal", "sort": ["EGFR", "ERBB4", "INSR", "MYC", "NTRK1", "RET"], "scale": {"paddingInner": 0, "paddingOuter": 0}, "axis": {"orient": "right", "title": null, "ticks": false, "domain": false, "labelFontSize": 8.5, "labelPadding": 3.5, "labelColor": "black"}},
"color": {"field": "z", "type": "quantitative", "scale": {"domain": [-4, -2, -1, 0, 1, 2, 4], "range": ["#2b1bff", "#55cfff", "#b4f0ff", "#ffffcc", "#f8cc8c", "#ec6444", "#a50f15"]},
"legend": {"title": "Z-score", "orient": "none", "legendX": 275, "legendY": 119.5, "values": [-4, -2, 0, 2, 4], "gradientLength": 52, "gradientThickness": 13, "titleFontSize": 9.5, "titleFontWeight": "bold", "titleColor": "black", "labelFontSize": 8.5, "labelColor": "black", "titlePadding": 4, "labelExpr": "toString(datum.value)"}}
}
}
],
"spacing": 5, "bounds": "flush",
"resolve": {"scale": {"color": "independent"}, "legend": {"color": "independent"}}
}
],
"spacing": 2, "bounds": "flush",
"resolve": {"scale": {"color": "independent"}, "legend": {"color": "independent"}}
}
],
"spacing": 30.7, "bounds": "flush",
"resolve": {"scale": {"color": "independent"}, "legend": {"color": "independent"}}
},
{
"hconcat": [
{"width": 1, "height": 1, "data": {"values": [{"a": 1}]}, "mark": {"type": "point", "opacity": 0}, "encoding": {}},
{
"width": 641.3, "height": 274,
"title": {"text": "C", "anchor": "start", "frame": "group", "fontSize": 16, "fontWeight": "bold", "offset": 8, "dx": -40, "color": "black"},
"layer": [
{"data": {"name": "gsea"}, "mark": {"type": "bar"},
"encoding": {
"x": {"field": "set", "type": "nominal", "sort": null, "scale": {"paddingInner": 0.1, "paddingOuter": 0.15},
"axis": {"title": "Gene set name", "labelAngle": -75, "labelExpr": "split(datum.label, '\\n')", "labelFontSize": 8.5, "labelLineHeight": 9.5, "labelColor": "#333", "labelLimit": 0, "labelOverlap": false, "domainColor": "#222", "tickColor": "#222", "tickSize": 3, "titleFontSize": 10.5, "titleFontWeight": "normal", "titleColor": "#333", "titlePadding": 1}},
"y": {"field": "nes", "type": "quantitative", "scale": {"domain": [-2.448, 2.427], "nice": false, "zero": false},
"axis": {"title": "Normalized enrichment score", "values": [-2, -1, 0, 1, 2], "labelExpr": "toString(datum.value)", "grid": false, "labelFontSize": 10, "labelColor": "#333", "domainColor": "#222", "tickColor": "#222", "tickSize": 3, "titleFontSize": 10.5, "titleFontWeight": "normal", "titleColor": "#333", "titlePadding": 1}},
"color": {"field": "q", "type": "quantitative", "scale": {"domain": [0.012, 0.268], "range": ["#8ddcd2", "#ff1e0e"], "interpolate": "lab"},
"legend": {"title": "qvalues", "orient": "none", "legendX": 655.6, "legendY": 59.5, "values": [0.05, 0.1, 0.15, 0.2, 0.25], "format": ".2f", "gradientLength": 146, "gradientThickness": 29, "titleFontSize": 8.5, "titleFontWeight": "normal", "titleColor": "#333", "labelFontSize": 9, "labelColor": "#333", "titlePadding": 4}}
}},
{"data": {"name": "annCb"}, "mark": {"type": "text", "fontSize": 8.5, "fontWeight": "bold", "color": "#2222bb", "align": "left", "baseline": "middle", "lineBreak": "\n", "lineHeight": 12.6},
"encoding": {"x": {"field": "set", "type": "nominal", "sort": null, "bandPosition": 0.42}, "y": {"datum": 2.3}, "text": {"field": "t"}}},
{"data": {"name": "annCr"}, "mark": {"type": "text", "fontSize": 8.5, "fontWeight": "bold", "color": "#ff2222", "align": "left", "baseline": "middle", "lineBreak": "\n", "lineHeight": 12.6},
"encoding": {"x": {"field": "set", "type": "nominal", "sort": null, "bandPosition": 0.55}, "y": {"datum": 2.3}, "text": {"field": "t"}}}
]
}
],
"spacing": 47.4, "bounds": "flush",
"resolve": {"scale": {"color": "independent"}, "legend": {"color": "independent"}}
}
]
}
